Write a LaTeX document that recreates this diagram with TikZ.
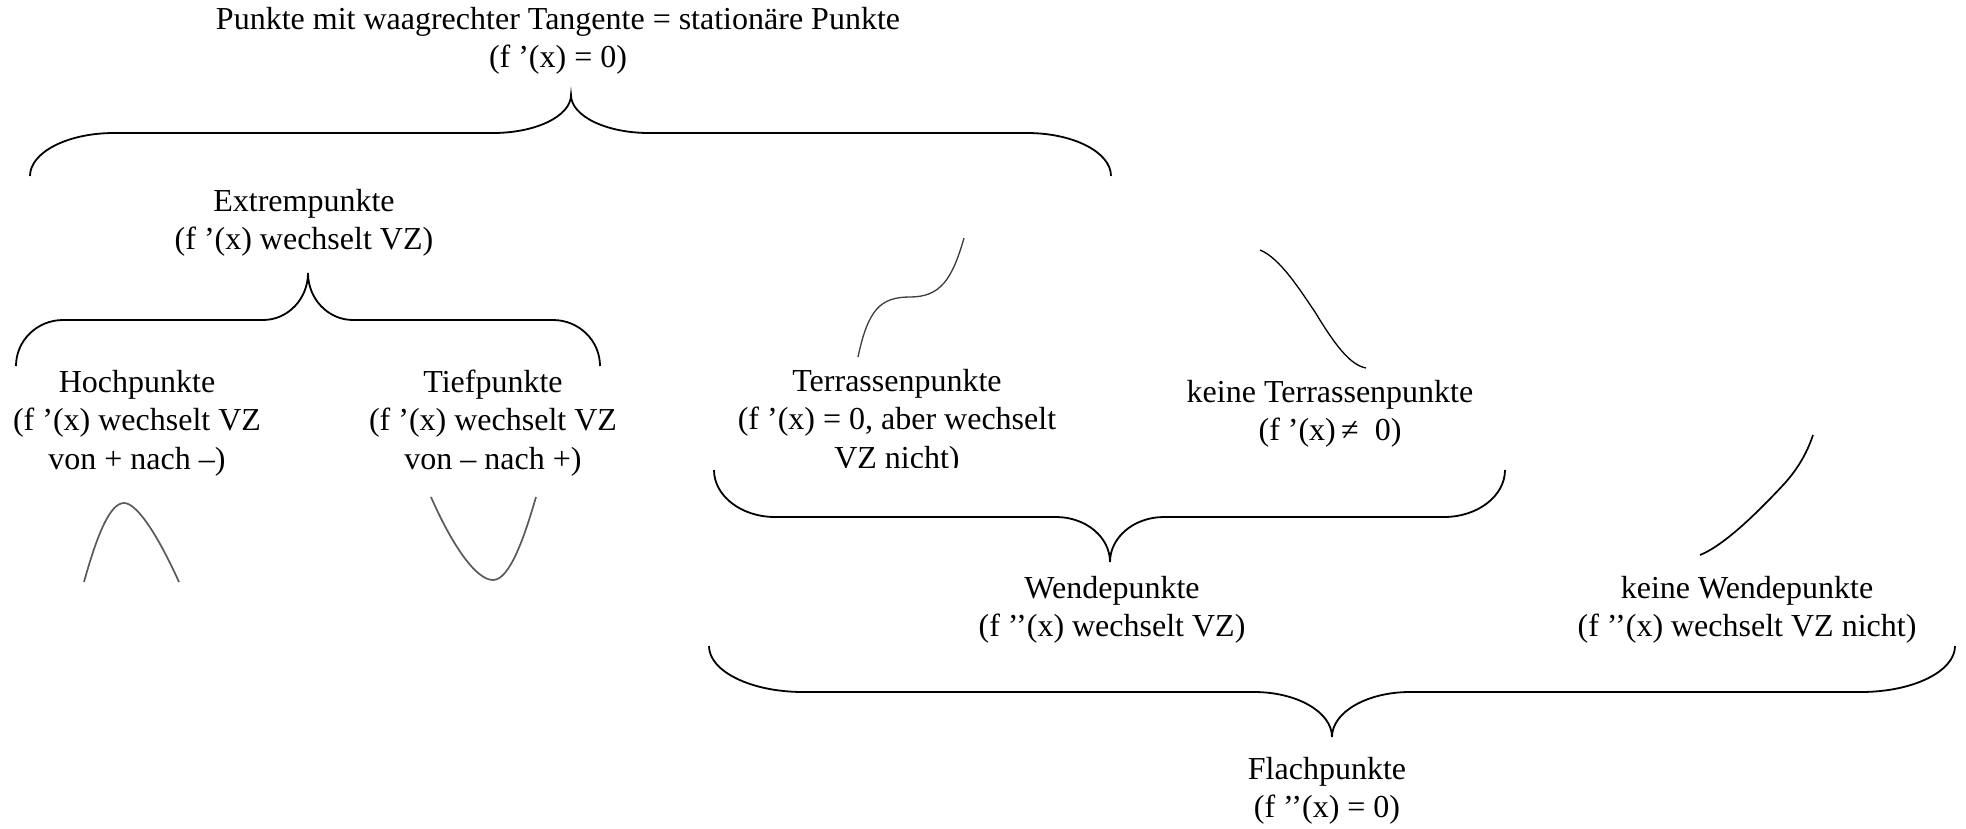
\documentclass[tikz,border=0pt]{standalone}
\usepackage{fontspec}
\setmainfont{Liberation Serif}
\tikzset{
  bracestyle/.style={line width=1.8pt, black},
  graph/.style={line width=1.7pt, color={rgb,255:red,90;green,90;blue,90}},
  thingraph/.style={line width=1.3pt, color={rgb,255:red,60;green,60;blue,60}},
  lbl/.style={align=center, inner sep=0pt, font=\fontsize{32}{38.5}\selectfont}
}
% L R Ye Yh T Yt w1 w2
\newcommand\mybrace[8]{%
 \draw[bracestyle] (#1,#3) .. controls (#1,{#3+0.552*(#4-#3)}) and ({#1+0.448*#7},#4) .. ({#1+#7},#4)
 -- ({#5-#8},#4) .. controls ({#5-0.448*#8},#4) and (#5,{#6+0.552*(#4-#6)}) .. (#5,#6)
 .. controls (#5,{#6+0.552*(#4-#6)}) and ({#5+0.448*#8},#4) .. ({#5+#8},#4)
 -- ({#2-#7},#4) .. controls ({#2-0.448*#7},#4) and (#2,{#3+0.552*(#4-#3)}) .. (#2,#3);}
\begin{document}
\begin{tikzpicture}[x=1pt,y=-1pt]
\useasboundingbox (0,0) rectangle (1966,828);
% texts
\node[lbl] (stat) at (558,41) {Punkte mit waagrechter Tangente = stationäre Punkte\\(f ’(x) = 0)};
\node[lbl] (extrem) at (304,223) {Extrempunkte\\(f ’(x) wechselt VZ)};
\node[lbl] (hoch) at (137,423) {Hochpunkte\\(f ’(x) wechselt VZ\\von + nach –)};
\node[lbl] (tief) at (493,423) {Tiefpunkte\\(f ’(x) wechselt VZ\\von – nach +)};
\begin{scope}
\clip (700,350) rectangle (1100,467);
\node[lbl] (terr) at (897,422) {Terrassenpunkte\\(f ’(x) = 0, aber wechselt\\VZ nicht)};
\end{scope}
\node[lbl] (keinterr) at (1330,414) {keine Terrassenpunkte\\(f ’(x)\,≠\hspace{0.5em}0)};
\node[lbl] (wende) at (1112,610) {Wendepunkte\\(f ’’(x) wechselt VZ)};
\node[lbl] (keinwende) at (1747,610) {keine Wendepunkte\\(f ’’(x) wechselt VZ nicht)};
\node[lbl] (flach) at (1327,791) {Flachpunkte\\(f ’’(x) = 0)};
% braces
\mybrace{30}{1111}{176}{133}{571}{95}{84}{78}
\mybrace{16}{600}{366}{320}{308}{273}{47}{45}
\mybrace{714}{1505}{470}{517}{1110}{562}{61}{54}
\mybrace{709}{1955}{646}{692}{1332}{737}{94}{78}
% sketch graphs
\draw[graph] (84,582) .. controls (97,535) and (110,503) .. (124,503) .. controls (138,503) and (160,540) .. (179,582);
\draw[graph] (431,497) .. controls (452,545) and (476,580) .. (493,580) .. controls (510,580) and (525,535) .. (536,497);
\draw[thingraph] (858,357) .. controls (868,310) and (880,297) .. (910,297) .. controls (940,297) and (952,280) .. (964,238);
\draw[thingraph, black] (1260,250) .. controls (1280,258) and (1300,290) .. (1315,312) .. controls (1335,345) and (1350,365) .. (1366,368);
\draw[graph, black] (1700,555) .. controls (1725,545) and (1760,510) .. (1785,483) .. controls (1800,466) and (1808,450) .. (1813,435);
\end{tikzpicture}
\end{document}
